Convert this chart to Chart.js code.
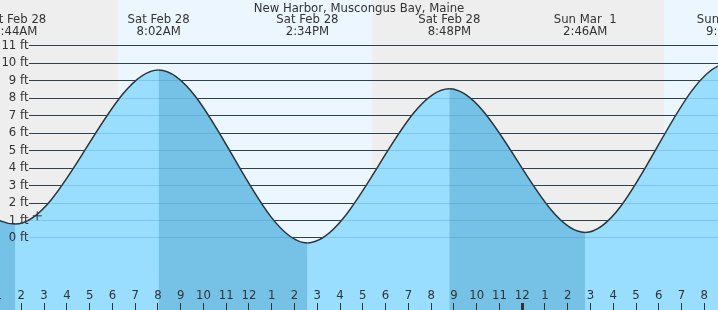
<!DOCTYPE html>
<html lang="en">
<head>
<meta charset="UTF-8">
<title>New Harbor, Muscongus Bay, Maine</title>
<script src="https://cdn.jsdelivr.net/npm/chart.js"></script>
<style>
  body { margin: 0; background: #fff; }
</style>
</head>
<body>
<canvas id="tideChart" width="718" height="310"></canvas>
<script>
    // hours are counted from midnight, Sat Feb 28
    const chartTitle = 'New Harbor, Muscongus Bay, Maine';

    // high / low water (first and last points sit just outside the view)
    const tideHours = [-4.5, 1.733, 8.033, 14.567, 20.8, 26.767, 33.05, 39.3];
    const tideFeet = [9.3, 0.8, 9.63, -0.28, 8.55, 0.32, 10.0, 0.2];

    // labels printed above each extreme
    const extremeHours = [1.733, 8.033, 14.567, 20.8, 26.767, 33.05];
    const extremeDates = ['Sat Feb 28', 'Sat Feb 28', 'Sat Feb 28', 'Sat Feb 28', 'Sun Mar  1', 'Sun Mar  1'];
    const extremeTimes = ['1:44AM', '8:02AM', '2:34PM', '8:48PM', '2:46AM', '9:03AM'];

    // daylight
    const sunrise = [6.25, 30.22];
    const sunset = [17.42, 41.4];

    // current time marker
    const nowHour = [2.7];
    const nowFeet = [1.27];

    const hourTicks = [1, 2, 3, 4, 5, 6, 7, 8, 9, 10, 11, 12, 13, 14, 15, 16,
                       17, 18, 19, 20, 21, 22, 23, 24, 25, 26, 27, 28, 29, 30, 31, 32];
    const feetTicks = [0, 1, 2, 3, 4, 5, 6, 7, 8, 9, 10, 11];

    const X_MIN = 1.064, X_MAX = 32.6;
    const Y_MIN = -4.125, Y_MAX = 13.635;

    Chart.defaults.font.family = '"DejaVu Sans"';
    Chart.defaults.font.size = 11.7;
    Chart.defaults.color = '#333';

    function noPad(scale) {
        scale.paddingLeft = 0;
        scale.paddingRight = 0;
        scale.paddingTop = 0;
        scale.paddingBottom = 0;
    }

    const dayNight = {
        id: 'dayNight',
        beforeDraw(chart) {
            const {ctx, chartArea: a, scales: {x}} = chart;
            ctx.save();
            ctx.fillStyle = '#eeeeee';
            ctx.fillRect(a.left, a.top, a.width, a.height);
            ctx.fillStyle = '#ebf6ff';
            sunrise.forEach((h, i) => {
                const x1 = Math.round(x.getPixelForValue(h));
                const x2 = Math.round(x.getPixelForValue(sunset[i]));
                ctx.fillRect(x1, a.top, x2 - x1, a.height);
            });
            ctx.fillStyle = '#333';
            ctx.font = '11.7px "DejaVu Sans"';
            ctx.textAlign = 'center';
            ctx.textBaseline = 'middle';
            ctx.fillText(chartTitle, (a.left + a.right) / 2, 8.5);
            ctx.restore();
        }
    };

    const rising = '#99ddff';
    const falling = '#76c1e6';
    const tidePoints = tideHours.map((h, i) => ({x: h, y: tideFeet[i]}));

    new Chart(document.getElementById('tideChart'), {
        type: 'line',
        data: {
            datasets: [{
                type: 'scatter',
                data: nowHour.map((h, i) => ({x: h, y: nowFeet[i]})),
                pointStyle: 'cross',
                pointRadius: 4.5,
                borderColor: '#333',
                borderWidth: 1,
                order: 0
            }, {
                data: tidePoints,
                borderColor: '#333',
                borderWidth: 1.5,
                pointRadius: 0,
                cubicInterpolationMode: 'monotone',
                capBezierPoints: false,
                fill: 'start',
                backgroundColor: rising,
                segment: {
                    backgroundColor: c => c.p1.parsed.y < c.p0.parsed.y ? falling : rising
                },
                order: 1
            }, {
                // plain fill underneath so the seams between segments don't show
                data: tidePoints,
                borderWidth: 0,
                pointRadius: 0,
                cubicInterpolationMode: 'monotone',
                capBezierPoints: false,
                fill: 'start',
                backgroundColor: rising,
                order: 2
            }]
        },
        options: {
            responsive: false,
            animation: false,
            layout: { padding: 0, autoPadding: false },
            plugins: {
                legend: { display: false },
                tooltip: { enabled: false }
            },
            scales: {
                x: {
                    type: 'linear',
                    min: X_MIN,
                    max: X_MAX,
                    position: { y: -3.7 },
                    afterBuildTicks: s => { s.ticks = hourTicks.map(v => ({value: v})); },
                    afterFit: noPad,
                    grid: {
                        drawOnChartArea: false,
                        tickLength: 8,
                        color: '#333',
                        tickWidth: c => (c.tick && c.tick.value === 24 ? 3 : 1),
                        z: 1
                    },
                    border: { display: false },
                    ticks: {
                        padding: -21.7,
                        autoSkip: false,
                        maxRotation: 0,
                        z: 1,
                        callback: v => (v % 12 === 0 ? 12 : v % 12)
                    }
                },
                xTop: {
                    type: 'linear',
                    axis: 'x',
                    min: X_MIN,
                    max: X_MAX,
                    position: { y: Y_MAX },
                    afterBuildTicks: s => { s.ticks = extremeHours.map(v => ({value: v})); },
                    afterFit: noPad,
                    grid: { display: false, drawTicks: false },
                    border: { display: false },
                    ticks: {
                        padding: 13.4,
                        autoSkip: false,
                        maxRotation: 0,
                        z: 1,
                        font: { lineHeight: 1.05 },
                        callback: (v, i) => [extremeDates[i], extremeTimes[i]]
                    }
                },
                y: {
                    type: 'linear',
                    min: Y_MIN,
                    max: Y_MAX,
                    position: { x: 2.316 },
                    afterBuildTicks: s => { s.ticks = feetTicks.map(v => ({value: v})); },
                    afterFit: noPad,
                    grid: { drawOnChartArea: false, tickLength: -720, color: '#333', z: -1 },
                    border: { display: false },
                    ticks: { display: false }
                },
                y2: {
                    type: 'linear',
                    axis: 'y',
                    min: Y_MIN,
                    max: Y_MAX,
                    position: { x: 2.316 },
                    afterBuildTicks: s => { s.ticks = feetTicks.map(v => ({value: v})); },
                    afterFit: noPad,
                    grid: { drawOnChartArea: false, tickLength: -720, color: 'rgba(30,120,180,0.22)', z: 1 },
                    border: { display: false },
                    ticks: { z: 1, callback: v => v + ' ft' }
                }
            }
        },
        plugins: [dayNight]
    });
</script>
</body>
</html>
